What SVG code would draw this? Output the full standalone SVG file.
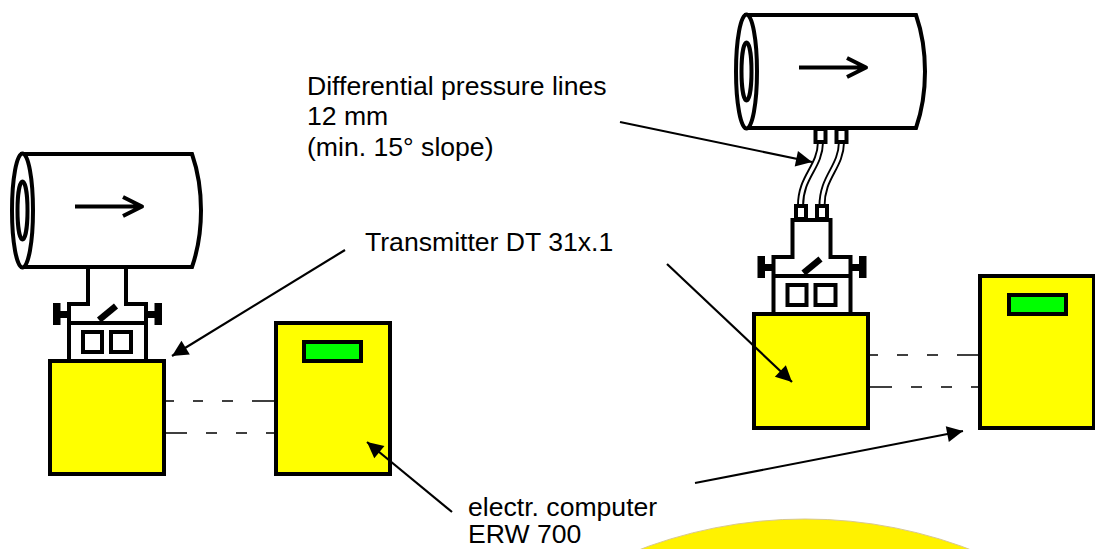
<svg xmlns="http://www.w3.org/2000/svg" width="1095" height="549" viewBox="0 0 1095 549">
<style>
.o{fill:none;stroke:#000;stroke-width:4}
.w{fill:#fff;stroke:#000;stroke-width:4}
.box{fill:#ff0;stroke:#000;stroke-width:4}
.g{fill:#0f0;stroke:#000;stroke-width:4}
.d{fill:none;stroke:#000;stroke-width:1.300}
.t{font-family:"Liberation Sans",Arial,sans-serif;font-size:26.600px;fill:#000}
.l{fill:none;stroke:#000;stroke-width:2.200}
.a{fill:none;stroke:#000;stroke-width:4;stroke-linejoin:round}
</style>
<defs>
<marker id="h" markerUnits="userSpaceOnUse" markerWidth="20" markerHeight="18" refX="19" refY="9" orient="auto"><path d="M3 1L19 9L3 17Z" fill="#000"/></marker>
<g id="pipe">
<path class="w" d="M22 154H192Q201 180 201 210.500Q201 241 192 267H22Z"/>
<ellipse class="w" cx="22.500" cy="210.500" rx="10.500" ry="57"/>
<ellipse class="o" cx="22.500" cy="210.500" rx="5" ry="29"/>
<path class="a" d="M75 206.500H141M123 197L142 206.500L123 216"/>
</g>
<g id="head">
<path class="w" d="M69 361V304H88V267H126V304H146V361Z"/>
<path class="o" d="M69 323H146"/>
<path d="M53 303h7.500v8h8.500v7h-8.500v7h-7.500ZM162 303h-7.500v8h-8.500v7h8.500v7h7.500Z" fill="#000"/>
<path d="M99 320L116 306" stroke="#000" stroke-width="6.500" fill="none"/>
<rect class="o" x="83" y="332" width="19" height="20"/>
<rect class="o" x="111" y="332" width="20" height="20"/>
</g>
</defs>
<circle id="sun" cx="805" cy="982" r="463" fill="#fff200" stroke="#d8c890" stroke-width="1"/>
<g id="pipe-left"><use href="#pipe"/></g>
<g id="transmitter-left"><use href="#head" y="0"/><rect class="box" x="50" y="361" width="114" height="113"/></g>
<g id="computer-left"><rect class="box" x="276" y="323" width="114" height="151"/><rect class="g" x="304" y="342" width="57" height="19"/></g>
<g id="pipe-right"><use href="#pipe" x="724" y="-139"/></g>
<g id="lines">
<path fill="none" stroke="#000" stroke-width="7" d="M820.500 142C820 168 800.500 176 800.500 206M841.500 142C841 168 822 176 822 206"/>
<path fill="none" stroke="#fff" stroke-width="3.200" d="M820.500 142C820 168 800.500 176 800.500 206M841.500 142C841 168 822 176 822 206"/>
<rect class="w" x="815.500" y="129" width="10" height="13"/><rect class="w" x="836.500" y="129" width="10" height="13"/>
<rect class="w" x="796" y="206" width="10" height="13"/><rect class="w" x="817" y="206" width="10" height="13"/>
</g>
<g id="transmitter-right"><use href="#head" x="704.500" y="-47"/><rect class="box" x="754" y="314" width="114" height="114"/></g>
<g id="computer-right"><rect class="box" x="980" y="276" width="114" height="152"/><rect class="g" x="1009" y="295" width="57" height="19"/></g>
<g id="connectors">
<path class="d" d="M164 401H174M193 401H203M222 401H233M252 401H276M164 433H187M206 433H217M236 433H247M266 433H276M868 355H878M897 355H908M927 355H938M957 355H980M868 387H892M911 387H922M941 387H952M971 387H980"/>
<path class="l" marker-end="url(#h)" d="M620 122L812 162"/>
<path class="l" marker-end="url(#h)" d="M345 250L172 356"/>
<path class="l" marker-end="url(#h)" d="M667 264L792 382"/>
<path class="l" marker-end="url(#h)" d="M452 512L367 442"/>
<path class="l" marker-end="url(#h)" d="M695 483L963 431"/>
</g>
<g id="labels">
<text class="t" x="307" y="94.500">Differential pressure lines</text>
<text class="t" x="307" y="125">12 mm</text>
<text class="t" x="307" y="155.500">(min. 15° slope)</text>
<text class="t" x="365" y="250.500">Transmitter DT 31x.1</text>
<text class="t" x="468" y="515.500">electr. computer</text>
<text class="t" x="468" y="543">ERW 700</text>
</g>
</svg>
